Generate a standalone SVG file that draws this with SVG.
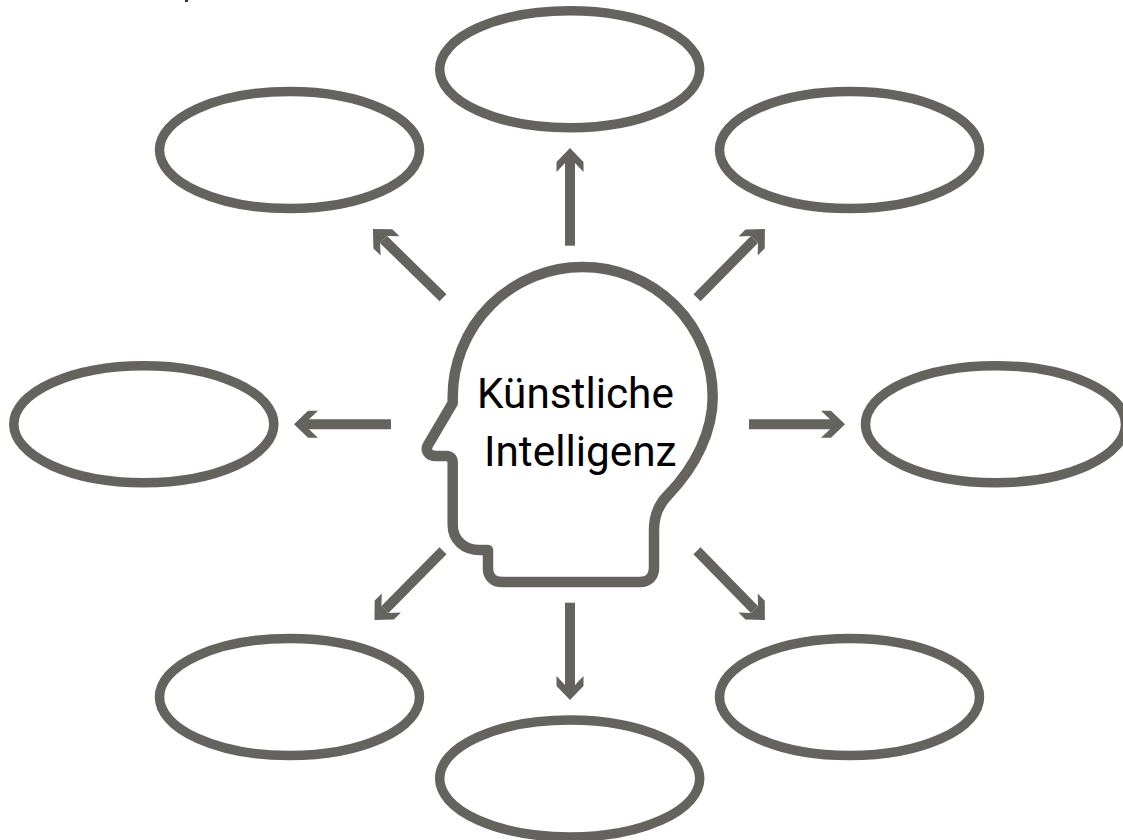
<svg xmlns="http://www.w3.org/2000/svg" width="1123" height="840" viewBox="0 0 1123 840">
<style>
.e{fill:#fff;stroke:#64635e;stroke-width:9.500}
.h{fill:#fff;stroke:#64635e;stroke-width:10.500;stroke-linejoin:round}
.c{fill:none;stroke:#64635e;stroke-width:10;marker-end:url(#a)}
text{font-family:Roboto,"Liberation Sans",sans-serif;font-size:42.300px;fill:#000}
</style>
<defs><marker id="a" markerUnits="userSpaceOnUse" markerWidth="30" markerHeight="30" refX="9" refY="15" orient="auto"><path d="M0 1.500H10L24 15L10 28.500H0L9 20V10Z" fill="#64635e"/></marker></defs>
<rect width="1123" height="840" fill="#fff"/>
<rect x="185" y="0" width="3" height="2" fill="#333"/>
<g id="connectors">
<path class="c" d="M570 245.700V163"/>
<path class="c" d="M697 297.700L754.400 239.600"/>
<path class="c" d="M443 297.700L383.600 239.600"/>
<path class="c" d="M749 424.300H830"/>
<path class="c" d="M391 424.300H309"/>
<path class="c" d="M697 550.700L754.400 609.400"/>
<path class="c" d="M443 550.700L385 609.400"/>
<path class="c" d="M570 602.700V685"/>
</g>
<g id="n1"><ellipse class="e" cx="569.700" cy="69.300" rx="130" ry="58.500"/></g>
<g id="n2"><ellipse class="e" cx="289.500" cy="150" rx="130" ry="58.500"/></g>
<g id="n3"><ellipse class="e" cx="849.500" cy="150" rx="130" ry="58.500"/></g>
<g id="n4"><ellipse class="e" cx="143.800" cy="424.200" rx="130" ry="58.500"/></g>
<g id="n5"><ellipse class="e" cx="995.500" cy="424.200" rx="130" ry="58.500"/></g>
<g id="n6"><ellipse class="e" cx="289.500" cy="697" rx="130" ry="58.500"/></g>
<g id="n7"><ellipse class="e" cx="849.500" cy="697" rx="130" ry="58.500"/></g>
<g id="n8"><ellipse class="e" cx="569.700" cy="778.500" rx="130" ry="58.500"/></g>
<g id="head">
<path class="h" d="M452.700 403V397A130 130 0 0 1 712.700 397C712.700 431 696 466 668 495C660 503 654 514 654 530V568C654 577 648 582 640 582H502C494 582 488 577 488 569V550H480C464 550 452.700 540 452.700 525V463C452.700 458 450 456 446 456H436C428 456 425 450 428 445Z"/>
<text x="477" y="407.500">Künstliche</text>
<text x="484" y="466">Intelligenz</text>
</g>
</svg>
